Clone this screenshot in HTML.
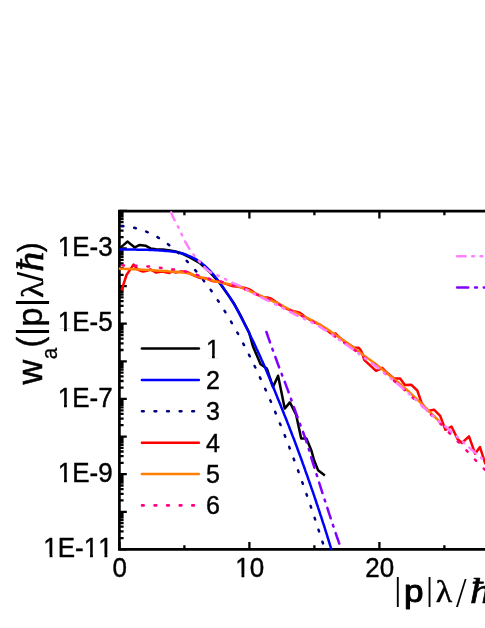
<!DOCTYPE html>
<html><head><meta charset="utf-8"><title>chart</title>
<style>
html,body{margin:0;padding:0;background:#fff;}
body{width:485px;height:628px;overflow:hidden;position:relative;}
.s{font-family:"Liberation Sans",sans-serif;fill:#000;}
.r{font-family:"Liberation Serif",serif;}
svg{will-change:transform;}
.k{font-kerning:none;stroke:#000;stroke-width:.4px;stroke-linejoin:round;}
</style></head><body>
<svg width="485" height="628" viewBox="0 0 485 628" style="position:absolute;left:0;top:0">
<rect width="485" height="628" fill="#fff"/>
<defs><clipPath id="c"><rect x="118.6" y="211.1" width="400" height="339.5"/></clipPath></defs>
<path d="M119.4,211.1 V549.4 H490 M119.4,211.1 H490" fill="none" stroke="#000" stroke-width="2.7" stroke-linecap="square"/>
<path d="M119.4,549.4 v-7.3 M119.4,211.1 v7.3 M184.4,549.4 v-4.2 M184.4,211.1 v4.2 M249.4,549.4 v-7.3 M249.4,211.1 v7.3 M314.4,549.4 v-4.2 M314.4,211.1 v4.2 M379.4,549.4 v-7.3 M379.4,211.1 v7.3 M444.4,549.4 v-4.2 M444.4,211.1 v4.2 M119.4,549.4 h7.4 M119.4,538.1 h4.2 M119.4,531.4 h4.2 M119.4,526.7 h4.2 M119.4,523.1 h4.2 M119.4,520.1 h4.2 M119.4,517.6 h4.2 M119.4,515.4 h4.2 M119.4,513.5 h4.2 M119.4,511.8 h7.4 M119.4,500.4 h4.2 M119.4,493.8 h4.2 M119.4,489.1 h4.2 M119.4,485.5 h4.2 M119.4,482.5 h4.2 M119.4,480.0 h4.2 M119.4,477.8 h4.2 M119.4,475.9 h4.2 M119.4,474.2 h7.4 M119.4,462.8 h4.2 M119.4,456.2 h4.2 M119.4,451.5 h4.2 M119.4,447.9 h4.2 M119.4,444.9 h4.2 M119.4,442.4 h4.2 M119.4,440.2 h4.2 M119.4,438.3 h4.2 M119.4,436.6 h7.4 M119.4,425.2 h4.2 M119.4,418.6 h4.2 M119.4,413.9 h4.2 M119.4,410.3 h4.2 M119.4,407.3 h4.2 M119.4,404.8 h4.2 M119.4,402.6 h4.2 M119.4,400.7 h4.2 M119.4,398.9 h7.4 M119.4,387.6 h4.2 M119.4,381.0 h4.2 M119.4,376.3 h4.2 M119.4,372.7 h4.2 M119.4,369.7 h4.2 M119.4,367.2 h4.2 M119.4,365.0 h4.2 M119.4,363.1 h4.2 M119.4,361.3 h7.4 M119.4,350.0 h4.2 M119.4,343.4 h4.2 M119.4,338.7 h4.2 M119.4,335.0 h4.2 M119.4,332.1 h4.2 M119.4,329.5 h4.2 M119.4,327.4 h4.2 M119.4,325.4 h4.2 M119.4,323.7 h7.4 M119.4,312.4 h4.2 M119.4,305.8 h4.2 M119.4,301.1 h4.2 M119.4,297.4 h4.2 M119.4,294.5 h4.2 M119.4,291.9 h4.2 M119.4,289.8 h4.2 M119.4,287.8 h4.2 M119.4,286.1 h7.4 M119.4,274.8 h4.2 M119.4,268.2 h4.2 M119.4,263.5 h4.2 M119.4,259.8 h4.2 M119.4,256.8 h4.2 M119.4,254.3 h4.2 M119.4,252.1 h4.2 M119.4,250.2 h4.2 M119.4,248.5 h7.4 M119.4,237.2 h4.2 M119.4,230.6 h4.2 M119.4,225.9 h4.2 M119.4,222.2 h4.2 M119.4,219.2 h4.2 M119.4,216.7 h4.2 M119.4,214.5 h4.2 M119.4,212.6 h4.2 M119.4,210.9 h7.4" fill="none" stroke="#000" stroke-width="2.3"/>
<g clip-path="url(#c)"><path d="M119.4,249.0 L120.8,247.4 L127.4,241.6 L134.8,247.4 L139.7,244.9 L145.5,245.7 L150.5,248.4 L156.0,249.2 L162.8,249.6 L170.0,250.6 L176.0,251.6 L182.0,253.6 L190.8,257.8 L199.5,262.9 L210.0,272.3 L219.3,282.6 L226.0,292.0 L233.7,302.9 L240.0,314.3 L246.0,326.2 L249.0,332.2 L253.0,346.6 L260.6,364.3 L266.8,368.5 L273.0,387.0 L278.1,375.7 L281.0,390.0 L284.7,408.6 L289.9,402.4 L296.1,414.7 L301.2,438.5 L306.4,438.5 L311.5,450.8 L314.0,460.0 L318.1,470.3 L324.9,475.5" fill="none" stroke="#000" stroke-width="2.5" stroke-linejoin="round" />
<path d="M119.4,249.5 L121.4,249.5 L123.4,249.5 L125.5,249.5 L127.5,249.6 L129.5,249.6 L131.5,249.6 L133.5,249.6 L135.6,249.6 L137.6,249.7 L139.6,249.7 L141.6,249.7 L143.6,249.8 L145.7,249.8 L147.7,249.8 L149.7,249.9 L151.7,250.0 L153.7,250.1 L155.7,250.2 L157.8,250.3 L159.8,250.5 L161.8,250.6 L163.8,250.8 L165.8,250.9 L167.8,251.1 L169.9,251.3 L171.9,251.5 L173.9,251.7 L175.9,252.0 L177.9,252.3 L179.8,252.7 L181.8,253.2 L183.7,253.8 L185.6,254.5 L187.5,255.3 L189.4,256.1 L191.2,256.9 L193.0,257.8 L194.8,258.7 L196.6,259.7 L198.3,260.8 L200.0,261.9 L201.6,263.1 L203.1,264.4 L204.7,265.7 L206.2,267.1 L207.6,268.5 L209.1,269.9 L210.5,271.4 L211.8,272.9 L213.2,274.4 L214.4,275.9 L215.7,277.5 L217.0,279.1 L218.2,280.7 L219.4,282.3 L220.6,284.0 L221.8,285.6 L223.0,287.2 L224.1,288.9 L225.3,290.6 L226.4,292.2 L227.6,293.9 L228.7,295.6 L229.8,297.3 L230.8,299.0 L231.9,300.7 L233.0,302.5 L234.0,304.2 L235.0,305.9 L236.0,307.7 L237.0,309.4 L237.9,311.2 L238.9,313.0 L239.8,314.8 L240.8,316.6 L241.7,318.4 L242.6,320.2 L243.5,322.0 L244.4,323.8 L245.3,325.6 L246.3,327.4 L247.2,329.2 L248.1,331.0 L249.0,332.8 L249.9,334.6 L250.7,336.4 L251.6,338.3 L252.5,340.1 L253.4,341.9 L254.3,343.7 L255.1,345.5 L256.0,347.4 L256.8,349.2 L257.7,351.0 L258.5,352.9 L259.4,354.7 L260.2,356.5 L261.0,358.4 L261.8,360.2 L262.7,362.1 L263.5,363.9 L264.3,365.8 L265.1,367.6 L265.9,369.5 L266.7,371.4 L267.4,373.2 L268.2,375.1 L269.0,376.9 L269.8,378.8 L270.6,380.7 L271.3,382.5 L272.1,384.4 L272.9,386.3 L273.6,388.1 L274.4,390.0 L275.2,391.9 L275.9,393.7 L276.7,395.6 L277.4,397.5 L278.2,399.4 L279.0,401.2 L279.7,403.1 L280.5,405.0 L281.2,406.9 L282.0,408.7 L282.7,410.6 L283.5,412.5 L284.2,414.4 L285.0,416.2 L285.7,418.1 L286.5,420.0 L287.2,421.9 L287.9,423.8 L288.7,425.6 L289.4,427.5 L290.1,429.4 L290.9,431.3 L291.6,433.2 L292.3,435.1 L293.0,436.9 L293.8,438.8 L294.5,440.7 L295.2,442.6 L295.9,444.5 L296.6,446.4 L297.3,448.3 L298.0,450.2 L298.7,452.1 L299.4,454.0 L300.1,455.9 L300.8,457.8 L301.5,459.7 L302.2,461.6 L302.8,463.5 L303.5,465.4 L304.2,467.3 L304.9,469.2 L305.5,471.1 L306.2,473.0 L306.9,474.9 L307.6,476.8 L308.2,478.7 L308.9,480.6 L309.6,482.5 L310.2,484.4 L310.9,486.3 L311.5,488.2 L312.2,490.1 L312.9,492.0 L313.5,493.9 L314.2,495.9 L314.8,497.8 L315.5,499.7 L316.1,501.6 L316.7,503.5 L317.4,505.4 L318.0,507.3 L318.7,509.3 L319.3,511.2 L319.9,513.1 L320.5,515.0 L321.2,516.9 L321.8,518.9 L322.4,520.8 L323.0,522.7 L323.7,524.6 L324.3,526.5 L324.9,528.5 L325.5,530.4 L326.1,532.3 L326.7,534.2 L327.3,536.2 L327.9,538.1 L328.5,540.0 L329.1,542.0 L329.7,543.9 L330.3,545.8 L330.9,547.8 L331.5,549.7" fill="none" stroke="#0000ff" stroke-width="2.5" stroke-linejoin="round" />
<path d="M119.4,226.1 L122.9,226.2 L126.5,226.5 L130.0,227.0 L133.5,227.6 L137.0,228.5 L140.6,229.6 L144.1,230.8 L147.6,232.2 L151.1,233.8 L154.7,235.6 L158.2,237.6 L161.7,239.8 L165.2,242.2 L168.8,244.8 L172.3,247.5 L175.8,250.5 L179.3,253.6 L182.9,257.0 L186.4,260.5 L189.9,264.2 L193.4,268.1 L197.0,272.2 L200.5,276.5 L204.0,280.9 L207.5,285.6 L211.1,290.4 L214.6,295.5 L218.1,300.7 L221.6,306.1 L225.2,311.8 L228.7,317.6 L232.2,323.6 L235.7,329.7 L239.3,336.1 L242.8,342.7 L246.3,349.4 L249.8,356.4 L253.4,363.5 L256.9,370.8 L260.4,378.4 L263.9,386.1 L267.5,394.0 L271.0,402.0 L274.5,410.3 L278.0,418.8 L281.6,427.5 L285.1,436.3 L288.6,445.3 L292.1,454.6 L295.7,464.0 L299.2,473.6 L302.7,483.4 L306.2,493.4 L309.8,503.6 L313.3,513.9 L316.8,524.5 L320.3,535.3 L323.9,546.2 L327.4,557.3" fill="none" stroke="#000080" stroke-width="2.5" stroke-linejoin="round" stroke-dasharray="1.7 10.87" stroke-linecap="round" stroke-dashoffset="10.2"/>
<path d="M121.5,290.3 L126.5,275.0 L133.5,264.6 L138.0,269.8 L143.0,271.5 L147.0,270.8 L150.5,269.3 L156.2,272.6 L162.0,271.6 L169.4,273.0 L172.0,271.5 L174.0,272.1 L176.0,272.4 L178.0,272.1 L180.0,271.6 L182.0,271.6 L184.0,271.7 L186.0,272.0 L188.0,272.4 L190.0,273.4 L192.0,274.6 L194.0,275.5 L196.0,276.4 L198.0,277.2 L200.0,277.9 L202.0,278.1 L204.0,278.1 L206.0,278.3 L208.0,279.1 L210.0,280.1 L212.0,280.9 L214.0,281.2 L216.0,281.4 L218.0,281.5 L220.0,281.7 L222.0,282.3 L224.0,283.2 L226.0,283.9 L228.0,284.6 L230.0,285.3 L232.0,285.9 L234.0,286.3 L236.0,286.5 L238.0,286.7 L240.0,287.0 L242.0,287.4 L244.0,287.8 L246.0,288.3 L248.0,288.9 L250.0,289.7 L252.0,290.9 L254.0,292.5 L256.0,293.8 L258.0,294.9 L260.0,295.9 L262.0,296.9 L264.0,297.4 L266.0,297.5 L268.0,297.6 L270.0,298.1 L272.0,299.2 L274.0,300.6 L276.0,302.0 L278.0,303.3 L280.0,304.7 L282.0,306.1 L284.0,307.4 L286.0,308.4 L288.0,309.3 L290.0,310.0 L292.0,310.7 L294.0,311.3 L296.0,311.7 L298.0,312.2 L300.0,312.9 L302.0,314.3 L304.0,316.0 L306.0,317.5 L308.0,318.7 L310.0,319.8 L312.0,320.9 L314.0,321.8 L316.0,322.8 L318.0,323.8 L320.0,324.7 L322.0,326.2 L327.0,330.3 L331.0,333.4 L333.5,334.2 L335.4,333.4 L338.0,336.2 L342.0,339.5 L350.0,345.0 L353.7,347.6 L358.7,347.8 L360.5,349.9 L362.4,353.6 L364.2,359.8 L376.0,370.9 L379.1,369.7 L382.2,367.8 L387.1,372.8 L393.9,378.4 L400.1,378.4 L404.9,384.9 L411.1,384.7 L417.3,390.5 L421.6,402.9 L427.8,410.9 L434.0,409.7 L440.2,415.9 L445.4,429.8 L451.5,426.5 L457.5,438.9 L461.9,443.0 L469.0,436.4 L475.1,453.7 L480.0,447.1 L485.0,462.8 L490.0,470.0" fill="none" stroke="#ff0000" stroke-width="2.5" stroke-linejoin="round" />
<path d="M118.6,268.6 L120.4,268.7 L122.3,268.7 L124.1,268.8 L126.0,268.9 L127.8,269.0 L129.7,269.0 L131.5,269.1 L133.4,269.2 L135.2,269.3 L137.1,269.4 L138.9,269.5 L140.8,269.6 L142.6,269.7 L144.5,269.8 L146.3,269.9 L148.2,270.0 L150.0,270.1 L151.9,270.2 L153.7,270.3 L155.5,270.5 L157.4,270.6 L159.2,270.7 L161.1,270.8 L163.0,270.9 L164.8,271.0 L166.7,271.1 L168.5,271.3 L170.4,271.4 L172.2,271.5 L174.1,271.7 L175.9,271.8 L177.8,272.0 L179.6,272.2 L181.4,272.4 L183.2,272.6 L185.1,272.8 L186.9,273.1 L188.6,273.5 L190.4,274.0 L192.2,274.5 L194.0,275.1 L195.7,275.7 L197.5,276.3 L199.3,276.8 L201.1,277.4 L202.8,277.9 L204.6,278.4 L206.4,278.9 L208.2,279.4 L210.0,279.8 L211.8,280.3 L213.6,280.8 L215.3,281.3 L217.1,281.7 L218.9,282.1 L220.8,282.5 L222.6,282.9 L224.4,283.2 L226.2,283.6 L228.0,283.9 L229.9,284.3 L231.7,284.6 L233.5,285.1 L235.2,285.5 L237.0,286.0 L238.8,286.6 L240.5,287.2 L242.2,287.8 L243.9,288.5 L245.6,289.2 L247.3,290.0 L249.0,290.7 L250.7,291.5 L252.4,292.3 L254.1,293.0 L255.8,293.7 L257.5,294.5 L259.2,295.2 L260.9,295.9 L262.6,296.7 L264.3,297.4 L266.0,298.1 L267.7,298.9 L269.4,299.7 L271.1,300.4 L272.8,301.2 L274.5,302.0 L276.1,302.7 L277.8,303.5 L279.5,304.3 L281.1,305.2 L282.8,306.0 L284.4,306.8 L286.1,307.7 L287.7,308.5 L289.4,309.4 L291.0,310.2 L292.7,311.1 L294.3,311.9 L296.0,312.7 L297.6,313.6 L299.3,314.4 L301.0,315.2 L302.6,315.9 L304.3,316.7 L306.0,317.5 L307.7,318.3 L309.4,319.1 L311.0,319.9 L312.7,320.7 L314.3,321.5 L315.9,322.4 L317.5,323.3 L319.2,324.2 L320.8,325.2 L322.3,326.1 L323.9,327.1 L325.5,328.1 L327.0,329.1 L328.6,330.1 L330.1,331.1 L331.6,332.2 L333.2,333.2 L334.7,334.3 L336.2,335.4 L337.7,336.5 L339.2,337.5 L340.7,338.6 L342.2,339.7 L343.7,340.7 L345.3,341.8 L346.8,342.8 L348.3,343.9 L349.8,344.9 L351.3,346.0 L352.8,347.1 L354.3,348.2 L355.8,349.3 L357.2,350.4 L358.7,351.5 L360.2,352.7 L361.7,353.8 L363.1,354.9 L364.6,356.0 L366.1,357.1 L367.6,358.2 L369.1,359.2 L370.7,360.3 L372.2,361.4 L373.6,362.5 L375.1,363.6 L376.6,364.7 L378.0,365.9 L379.5,367.1 L380.9,368.2 L382.3,369.4 L383.7,370.6 L385.1,371.8 L386.6,373.0 L388.0,374.1 L389.4,375.3 L390.9,376.5 L392.3,377.6 L393.8,378.8 L395.2,379.9 L396.6,381.1 L398.1,382.3 L399.5,383.5 L400.9,384.6 L402.3,385.9 L403.7,387.1 L405.1,388.3 L406.5,389.5 L407.8,390.8 L409.2,392.0 L410.6,393.3 L411.9,394.5 L413.3,395.8 L414.6,397.1 L416.0,398.3 L417.3,399.6 L418.6,400.9 L420.0,402.2 L421.3,403.5 L422.6,404.8 L423.9,406.1 L425.2,407.4 L426.6,408.7 L427.9,410.0 L429.2,411.3 L430.5,412.6 L431.8,413.9 L433.1,415.2 L434.5,416.5 L435.8,417.8 L437.1,419.1 L438.4,420.4 L439.7,421.7 L441.0,423.0" fill="none" stroke="#ff8000" stroke-width="2.5" stroke-linejoin="round" />
<path d="M118.6,265.2 L119.7,265.2 L120.8,265.3 L121.9,265.3 L123.0,265.4 L124.1,265.4 L125.2,265.4 L126.3,265.5 L127.4,265.5 L128.5,265.5 L129.6,265.5 L130.7,265.6 L131.8,265.6 L132.9,265.6 L134.0,265.7 L135.1,265.7 L136.2,265.8 L137.3,265.8 L138.4,265.9 L139.5,265.9 L140.6,266.0 L141.7,266.1 L142.8,266.1 L143.9,266.2 L145.0,266.3 L146.1,266.4 L147.2,266.4 L148.3,266.5 L149.4,266.6 L150.5,266.7 L151.6,266.8 L152.7,266.9 L153.8,267.0 L154.9,267.2 L156.0,267.3 L157.1,267.4 L158.2,267.5 L159.3,267.7 L160.4,267.8 L161.5,267.9 L162.6,268.0 L163.7,268.1 L164.8,268.3 L165.9,268.4 L166.9,268.5 L168.0,268.7 L169.1,268.8 L170.2,269.0 L171.3,269.1 L172.4,269.3 L173.5,269.4 L174.6,269.6 L175.7,269.8 L176.8,270.0 L177.8,270.2 L178.9,270.3 L180.0,270.5 L181.1,270.7 L182.2,270.9 L183.3,271.1 L184.4,271.3 L185.4,271.5 L186.5,271.7 L187.6,271.9 L188.7,272.2 L189.7,272.5 L190.8,272.8 L191.8,273.1 L192.9,273.5 L193.9,273.8 L195.0,274.2 L196.0,274.6 L197.1,274.9 L198.1,275.3 L199.1,275.6 L200.2,276.0 L201.2,276.3 L202.3,276.7 L203.3,277.0 L204.4,277.3 L205.4,277.6 L206.5,277.9 L207.6,278.3 L208.6,278.6 L209.7,278.9 L210.7,279.2 L211.8,279.4 L212.9,279.7 L213.9,280.0 L215.0,280.3 L216.1,280.5 L217.1,280.8 L218.2,281.1 L219.3,281.3 L220.4,281.5 L221.4,281.7 L222.5,282.0 L223.6,282.2 L224.7,282.5 L225.7,282.8 L226.8,283.1 L227.8,283.4 L228.9,283.8 L229.9,284.1 L231.0,284.4 L232.0,284.8 L233.1,285.1 L234.1,285.5 L235.2,285.8 L236.2,286.1 L237.3,286.4 L238.4,286.7 L239.4,287.1 L240.4,287.5 L241.5,287.8 L242.5,288.2 L243.5,288.7 L244.5,289.1 L245.5,289.5 L246.6,289.9 L247.6,290.4 L248.6,290.8 L249.6,291.3 L250.6,291.7 L251.6,292.2 L252.6,292.6 L253.6,293.1 L254.6,293.5 L255.6,294.0 L256.6,294.4 L257.7,294.8 L258.7,295.3 L259.7,295.7 L260.7,296.1 L261.7,296.6 L262.7,297.0 L263.7,297.4 L264.7,297.9 L265.8,298.3 L266.8,298.8 L267.8,299.2 L268.8,299.7 L269.8,300.1 L270.8,300.6 L271.8,301.0 L272.8,301.5 L273.8,301.9 L274.8,302.4 L275.8,302.9 L276.8,303.3 L277.8,303.8 L278.8,304.3 L279.8,304.8 L280.7,305.3 L281.7,305.8 L282.7,306.3 L283.7,306.8 L284.7,307.3 L285.7,307.8 L286.6,308.3 L287.6,308.8 L288.6,309.3 L289.6,309.8 L290.6,310.3 L291.5,310.8 L292.5,311.3 L293.5,311.8 L294.5,312.3 L295.5,312.8 L296.5,313.3 L297.4,313.8 L298.4,314.3 L299.4,314.7 L300.4,315.2 L301.4,315.7 L302.4,316.2 L303.4,316.6 L304.4,317.1 L305.4,317.6 L306.3,318.1 L307.3,318.7 L308.3,319.2 L309.3,319.7 L310.2,320.2 L311.2,320.8 L312.1,321.3 L313.1,321.9 L314.0,322.5 L315.0,323.0 L315.9,323.6 L316.8,324.2 L317.8,324.8 L318.7,325.4 L319.6,326.0 L320.5,326.6 L321.4,327.2 L322.4,327.9 L323.3,328.5 L324.2,329.1 L325.1,329.7 L326.0,330.3 L326.9,330.9 L327.8,331.6 L328.7,332.2 L329.7,332.8 L330.6,333.4 L331.5,334.0 L332.4,334.7 L333.3,335.3 L334.2,335.9 L335.1,336.6 L336.0,337.2 L336.9,337.8 L337.8,338.5 L338.7,339.1 L339.6,339.7 L340.5,340.3 L341.4,340.9 L342.4,341.6 L343.3,342.2 L344.2,342.8 L345.1,343.4 L346.0,344.0 L346.9,344.6 L347.8,345.2 L348.8,345.9 L349.7,346.5 L350.6,347.1 L351.5,347.8 L352.4,348.4 L353.3,349.0 L354.1,349.7 L355.0,350.4 L355.9,351.0 L356.8,351.7 L357.7,352.4 L358.5,353.0 L359.4,353.7 L360.3,354.4 L361.2,355.0 L362.1,355.7 L362.9,356.4 L363.8,357.0 L364.7,357.7 L365.6,358.3 L366.5,359.0 L367.4,359.6 L368.3,360.3 L369.2,360.9 L370.1,361.5 L371.0,362.2 L371.8,362.8 L372.7,363.5 L373.6,364.1 L374.5,364.8 L375.4,365.5 L376.2,366.2 L377.1,366.9 L377.9,367.5 L378.8,368.2 L379.6,369.0 L380.5,369.7 L381.3,370.4 L382.2,371.1 L383.0,371.8 L383.9,372.5 L384.7,373.2 L385.5,373.9 L386.4,374.6 L387.2,375.3 L388.1,376.0 L388.9,376.7 L389.8,377.4 L390.6,378.1 L391.5,378.8 L392.3,379.5 L393.2,380.2 L394.1,380.9 L394.9,381.6 L395.8,382.3 L396.6,383.0 L397.4,383.7 L398.3,384.5 L399.1,385.2 L400.0,385.9 L400.8,386.6 L401.6,387.3 L402.5,388.1 L403.3,388.8 L404.1,389.5 L404.9,390.3 L405.7,391.0 L406.5,391.8 L407.3,392.5 L408.1,393.3 L408.9,394.1 L409.7,394.8 L410.5,395.6 L411.3,396.3 L412.1,397.1 L412.9,397.9 L413.7,398.6 L414.5,399.3 L415.4,400.1 L416.2,400.8 L417.0,401.5 L417.9,402.2 L418.7,403.0 L419.5,403.7 L420.3,404.4 L421.1,405.2 L422.0,405.9 L422.8,406.7 L423.5,407.4 L424.3,408.2 L425.1,409.0 L425.9,409.7 L426.7,410.5 L427.5,411.3 L428.3,412.0 L429.1,412.8 L429.9,413.6 L430.7,414.3 L431.5,415.1 L432.3,415.9 L433.1,416.6 L433.9,417.4 L434.7,418.2 L435.5,418.9 L436.3,419.7 L437.1,420.4 L437.8,421.2 L438.6,422.0 L439.5,422.7 L440.2,423.5 L441.0,424.2 L441.8,425.0 L442.6,425.8 L443.3,426.6 L444.1,427.4 L444.8,428.2 L445.6,429.0 L446.4,429.8 L447.1,430.6 L447.9,431.4 L448.6,432.2 L449.4,433.0 L450.2,433.8 L451.0,434.6 L451.7,435.4 L452.5,436.1 L453.3,436.9 L454.1,437.7 L454.9,438.5 L455.7,439.2 L456.4,440.0 L457.2,440.8 L458.0,441.6 L458.8,442.4 L459.5,443.2 L460.3,443.9 L461.1,444.7 L461.8,445.5 L462.6,446.3 L463.3,447.1 L464.1,447.9 L464.9,448.7 L465.6,449.5 L466.4,450.3 L467.1,451.1 L467.9,451.9 L468.6,452.8 L469.4,453.6 L470.1,454.4 L470.9,455.2 L471.6,456.0 L472.3,456.8 L473.1,457.6 L473.8,458.4 L474.6,459.2 L475.4,460.0 L476.1,460.8 L476.9,461.6 L477.7,462.4 L478.4,463.2 L479.2,464.0 L480.0,464.8 L480.8,465.5 L481.5,466.3 L482.3,467.1 L483.1,467.9 L483.9,468.7 L484.6,469.5 L485.4,470.2 L486.2,471.0 L486.9,471.8 L487.7,472.6 L488.5,473.4 L489.2,474.2 L490.0,475.0" fill="none" stroke="#ff0080" stroke-width="2.5" stroke-linejoin="round" stroke-dasharray="1.7 10.87" stroke-linecap="round" stroke-dashoffset="8.9"/>
<path d="M171.1,212.4 L171.5,213.4 L171.9,214.3 L172.3,215.3 L172.7,216.2 L173.1,217.2 L173.6,218.1 L174.0,219.1 L174.5,220.0 L174.9,220.9 L175.4,221.9 L175.8,222.8 L176.3,223.7 L176.8,224.6 L177.4,225.5 L177.9,226.4 L178.4,227.3 L178.9,228.2 L179.4,229.2 L179.8,230.1 L180.2,231.1 L180.6,232.0 L181.0,233.0 L181.4,233.9 L181.9,234.9 L182.3,235.8 L182.8,236.7 L183.2,237.7 L183.7,238.6 L184.2,239.5 L184.6,240.5 L185.1,241.4 L185.6,242.3 L186.1,243.2 L186.6,244.1 L187.1,245.0 L187.6,245.9 L188.2,246.8 L188.7,247.7 L189.2,248.6 L189.8,249.5 L190.4,250.3 L191.0,251.2 L191.6,252.0 L192.2,252.9 L192.8,253.7 L193.5,254.5 L194.1,255.3 L194.8,256.1 L195.4,256.9 L196.1,257.7 L196.8,258.5 L197.5,259.3 L198.1,260.1 L198.8,260.9 L199.5,261.7 L200.1,262.5 L200.8,263.3 L201.4,264.1 L202.1,264.9 L202.8,265.7 L203.5,266.4 L204.3,267.1 L205.0,267.9 L205.8,268.6 L206.6,269.3 L207.4,270.0 L208.2,270.6 L209.0,271.3 L209.9,271.9 L210.7,272.4 L211.6,272.9 L212.5,273.4 L213.5,273.8 L214.4,274.2 L215.4,274.6 L216.4,274.9 L217.4,275.3 L218.3,275.8 L219.3,276.2 L220.2,276.6 L221.1,277.1 L222.1,277.6 L223.0,278.0 L223.9,278.5 L224.9,279.0 L225.8,279.4 L226.7,279.9 L227.6,280.4 L228.5,280.9 L229.5,281.4 L230.4,281.8 L231.3,282.3 L232.3,282.7 L233.2,283.1 L234.2,283.6 L235.1,283.9 L236.1,284.3 L237.1,284.7 L238.0,285.1 L239.0,285.5 L239.9,286.0 L240.9,286.4 L241.8,286.9 L242.6,287.5 L243.5,288.1 L244.4,288.6 L245.3,289.1 L246.2,289.6 L247.1,290.1 L248.0,290.6 L248.9,291.1 L249.8,291.6 L250.8,292.1 L251.7,292.6 L252.6,293.1 L253.5,293.6 L254.4,294.1 L255.4,294.6 L256.3,295.0 L257.2,295.5 L258.2,295.9 L259.1,296.4 L260.0,296.8 L261.0,297.3 L261.9,297.7 L262.8,298.2 L263.8,298.6 L264.7,299.1 L265.7,299.5 L266.6,299.9 L267.5,300.4 L268.5,300.8 L269.4,301.3 L270.3,301.7 L271.3,302.2 L272.2,302.6 L273.1,303.1 L274.1,303.6 L275.0,304.0 L275.9,304.5 L276.9,304.9 L277.8,305.4 L278.7,305.9 L279.7,306.4 L280.6,306.8 L281.5,307.3 L282.4,307.8 L283.3,308.3 L284.3,308.8 L285.2,309.3 L286.1,309.7 L287.0,310.2 L287.9,310.7 L288.8,311.2 L289.8,311.7 L290.7,312.2 L291.6,312.7 L292.5,313.2 L293.4,313.6 L294.4,314.1 L295.3,314.6 L296.2,315.1 L297.1,315.5 L298.1,316.0 L299.0,316.4 L299.9,316.9 L300.9,317.3 L301.8,317.8 L302.8,318.2 L303.7,318.6 L304.7,319.1 L305.6,319.5 L306.5,319.9 L307.5,320.4 L308.4,320.8 L309.4,321.3 L310.3,321.7 L311.2,322.2 L312.2,322.6 L313.1,323.1 L314.0,323.6 L314.9,324.1 L315.9,324.6 L316.8,325.1 L317.7,325.6 L318.6,326.1 L319.5,326.6 L320.4,327.1 L321.3,327.7 L322.1,328.2 L323.0,328.7 L323.9,329.3 L324.8,329.8 L325.7,330.4 L326.6,330.9 L327.4,331.5 L328.3,332.1 L329.2,332.7 L330.0,333.2 L330.9,333.8 L331.7,334.4 L332.6,335.0 L333.4,335.6 L334.3,336.2 L335.1,336.8 L336.0,337.4 L336.8,338.0 L337.7,338.6 L338.5,339.2 L339.4,339.8 L340.2,340.4 L341.1,341.0 L341.9,341.6 L342.8,342.2 L343.6,342.8 L344.5,343.4 L345.3,344.0 L346.2,344.6 L347.0,345.2 L347.9,345.8 L348.7,346.4 L349.6,347.0 L350.4,347.6 L351.3,348.2 L352.1,348.8 L353.0,349.4 L353.8,350.0 L354.6,350.6 L355.5,351.2 L356.3,351.9 L357.1,352.5 L358.0,353.1 L358.8,353.7 L359.6,354.4 L360.4,355.0 L361.3,355.6 L362.1,356.2 L362.9,356.9 L363.8,357.5 L364.6,358.1 L365.5,358.7 L366.3,359.3 L367.1,359.9 L368.0,360.5 L368.8,361.1 L369.7,361.7 L370.5,362.3 L371.4,362.9 L372.2,363.5 L373.1,364.1 L373.9,364.8 L374.7,365.4 L375.6,366.0 L376.4,366.7 L377.2,367.3 L378.0,368.0 L378.8,368.6 L379.6,369.3 L380.4,369.9 L381.2,370.6 L382.0,371.2 L382.8,371.9 L383.6,372.6 L384.4,373.2 L385.2,373.9 L386.0,374.6 L386.8,375.2 L387.6,375.9 L388.4,376.5 L389.2,377.2 L390.1,377.8 L390.9,378.5 L391.7,379.1 L392.5,379.8 L393.3,380.4 L394.1,381.1 L394.9,381.7 L395.7,382.4 L396.5,383.0 L397.3,383.7 L398.2,384.3 L399.0,385.0 L399.8,385.7 L400.5,386.3 L401.3,387.0 L402.1,387.7 L402.9,388.4 L403.7,389.0 L404.5,389.7 L405.3,390.4 L406.0,391.1 L406.8,391.8 L407.6,392.5 L408.4,393.2 L409.2,393.9 L409.9,394.6 L410.7,395.2 L411.5,395.9 L412.2,396.6 L413.0,397.3 L413.8,398.0 L414.5,398.7 L415.3,399.4 L416.1,400.1 L416.8,400.8 L417.6,401.6 L418.4,402.3 L419.1,403.0 L419.9,403.7 L420.6,404.4 L421.4,405.1 L422.1,405.8 L422.9,406.5 L423.7,407.2 L424.4,408.0 L425.2,408.7 L425.9,409.4 L426.7,410.1 L427.4,410.8 L428.2,411.5 L428.9,412.2 L429.7,413.0 L430.5,413.7 L431.2,414.4 L432.0,415.1 L432.7,415.8 L433.5,416.5 L434.2,417.2 L435.0,417.9 L435.8,418.6 L436.5,419.4 L437.3,420.1 L438.0,420.8 L438.8,421.5 L439.6,422.2 L440.4,422.9 L441.2,423.5 L442.1,424.1 L442.9,424.7 L443.8,425.3 L444.6,425.9 L445.4,426.5 L446.2,427.2 L447.0,427.9 L447.8,428.5 L448.6,429.2 L449.4,429.9 L450.1,430.6 L450.9,431.3 L451.7,431.9 L452.5,432.6 L453.3,433.3 L454.0,434.0 L454.8,434.7 L455.6,435.4 L456.4,436.1 L457.2,436.8 L457.9,437.5 L458.7,438.2 L459.5,438.9 L460.2,439.6 L461.0,440.3 L461.8,440.9 L462.5,441.6 L463.3,442.3 L464.1,443.0 L464.9,443.7 L465.7,444.4 L466.4,445.1 L467.2,445.8 L468.0,446.5 L468.8,447.1 L469.6,447.8 L470.3,448.5 L471.1,449.2 L471.9,449.9 L472.7,450.6 L473.5,451.2 L474.3,451.9 L475.1,452.6 L475.8,453.3 L476.6,454.0 L477.4,454.6 L478.2,455.3 L479.0,456.0 L479.8,456.7 L480.6,457.3 L481.4,458.0 L482.1,458.7 L482.9,459.4 L483.7,460.1 L484.5,460.7 L485.3,461.4 L486.1,462.1 L486.9,462.8 L487.6,463.5 L488.4,464.1 L489.2,464.8 L490.0,465.5" fill="none" stroke="#ff80ff" stroke-width="2.5" stroke-linejoin="round" stroke-dasharray="8.6 6.9 1.6 6.8 1.6 6.8" stroke-linecap="round"/>
<path d="M266.4,332.0 L267.2,334.2 L267.9,336.4 L268.7,338.6 L269.5,340.8 L270.2,343.0 L271.0,345.2 L271.8,347.4 L272.6,349.6 L273.4,351.7 L274.2,353.9 L275.0,356.1 L275.8,358.3 L276.6,360.5 L277.4,362.7 L278.2,364.8 L279.0,367.0 L279.8,369.2 L280.7,371.4 L281.5,373.5 L282.3,375.7 L283.2,377.9 L284.0,380.0 L284.9,382.2 L285.7,384.4 L286.5,386.6 L287.3,388.7 L288.1,390.9 L288.9,393.1 L289.7,395.3 L290.5,397.5 L291.3,399.7 L292.1,401.9 L292.8,404.1 L293.6,406.3 L294.4,408.5 L295.2,410.7 L295.9,412.8 L296.7,415.0 L297.5,417.2 L298.3,419.4 L299.1,421.6 L299.9,423.8 L300.7,426.0 L301.6,428.1 L302.4,430.3 L303.2,432.5 L304.0,434.7 L304.8,436.9 L305.6,439.0 L306.3,441.2 L307.0,443.5 L307.7,445.7 L308.4,447.9 L309.1,450.1 L309.7,452.4 L310.4,454.6 L311.0,456.8 L311.7,459.1 L312.4,461.3 L313.1,463.5 L313.8,465.7 L314.5,467.9 L315.2,470.2 L315.9,472.4 L316.6,474.6 L317.3,476.8 L318.0,479.0 L318.7,481.2 L319.4,483.5 L320.1,485.7 L320.8,487.9 L321.5,490.1 L322.2,492.3 L322.9,494.5 L323.7,496.8 L324.4,499.0 L325.1,501.2 L325.8,503.4 L326.5,505.6 L327.3,507.8 L328.0,510.0 L328.7,512.2 L329.4,514.4 L330.2,516.7 L330.9,518.9 L331.6,521.1 L332.4,523.3 L333.1,525.5 L333.9,527.7 L334.6,529.9 L335.3,532.1 L336.1,534.3 L336.8,536.5 L337.6,538.7 L338.4,540.9 L339.1,543.1 L339.9,545.3 L340.6,547.5 L341.4,549.7" fill="none" stroke="#8000ff" stroke-width="2.5" stroke-linejoin="round" stroke-dasharray="11 6.9 1.8 6.9" stroke-linecap="round"/></g>
<path d="M141.9,348.6 H198.9" stroke="#000" stroke-width="2.5" fill="none" stroke-linecap="round"/>
<g transform="translate(206.00,357.60) scale(1,1.000)"><text font-size="25.0" class="s k">1</text><path d="M0.50,-2.77 H5.99 V1.2 H0.50 Z M8.79,-2.77 H14.25 V1.2 H8.79 Z" fill="#fff"/></g>
<path d="M141.9,380.0 H198.9" stroke="#0000ff" stroke-width="2.5" fill="none" stroke-linecap="round"/>
<g transform="translate(206.00,388.96) scale(1,1.000)"><text font-size="25.0" class="s k">2</text></g>
<path d="M142.0,411.3 H200" stroke="#000080" stroke-width="2.6" fill="none" stroke-dasharray="1.7 10.87" stroke-linecap="round"/>
<g transform="translate(206.00,420.32) scale(1,1.000)"><text font-size="25.0" class="s k">3</text></g>
<path d="M141.9,442.7 H198.9" stroke="#ff0000" stroke-width="2.5" fill="none" stroke-linecap="round"/>
<g transform="translate(206.00,451.68) scale(1,1.000)"><text font-size="25.0" class="s k">4</text></g>
<path d="M141.9,474.0 H198.9" stroke="#ff8000" stroke-width="2.5" fill="none" stroke-linecap="round"/>
<g transform="translate(206.00,483.04) scale(1,1.000)"><text font-size="25.0" class="s k">5</text></g>
<path d="M142.0,505.4 H200" stroke="#ff0080" stroke-width="2.6" fill="none" stroke-dasharray="1.7 10.87" stroke-linecap="round"/>
<g transform="translate(206.00,514.40) scale(1,1.000)"><text font-size="25.0" class="s k">6</text></g>
<path d="M457.2,256.3 H490" stroke="#ff80ff" stroke-width="2.6" fill="none" stroke-dasharray="8.4 6.7 1.6 6.7 1.6 6.7" stroke-linecap="round"/>
<path d="M457.2,287.5 H490" stroke="#8000ff" stroke-width="2.6" fill="none" stroke-dasharray="11 6.9 1.8 6.9" stroke-linecap="round"/>
<g transform="translate(57.78,256.20) scale(1,1.067)"><text font-size="26.0" class="s k">1E-3</text><path d="M0.52,-2.84 H6.24 V1.2 H0.52 Z M9.13,-2.84 H14.82 V1.2 H9.13 Z" fill="#fff"/></g>
<g transform="translate(57.78,331.42) scale(1,1.067)"><text font-size="26.0" class="s k">1E-5</text><path d="M0.52,-2.84 H6.24 V1.2 H0.52 Z M9.13,-2.84 H14.82 V1.2 H9.13 Z" fill="#fff"/></g>
<g transform="translate(57.78,406.64) scale(1,1.067)"><text font-size="26.0" class="s k">1E-7</text><path d="M0.52,-2.84 H6.24 V1.2 H0.52 Z M9.13,-2.84 H14.82 V1.2 H9.13 Z" fill="#fff"/></g>
<g transform="translate(57.78,481.86) scale(1,1.067)"><text font-size="26.0" class="s k">1E-9</text><path d="M0.52,-2.84 H6.24 V1.2 H0.52 Z M9.13,-2.84 H14.82 V1.2 H9.13 Z" fill="#fff"/></g>
<g transform="translate(43.32,557.08) scale(1,1.067)"><text font-size="26.0" class="s k">1E-11</text><path d="M0.52,-2.84 H6.24 V1.2 H0.52 Z M9.13,-2.84 H14.82 V1.2 H9.13 Z" fill="#fff"/><path d="M40.98,-2.84 H46.70 V1.2 H40.98 Z M49.59,-2.84 H55.28 V1.2 H49.59 Z" fill="#fff"/><path d="M55.44,-2.84 H61.16 V1.2 H55.44 Z M64.05,-2.84 H69.74 V1.2 H64.05 Z" fill="#fff"/></g>
<g transform="translate(112.47,577.00) scale(1,1.070)"><text font-size="26.0" class="s k">0</text></g>
<g transform="translate(235.24,577.00) scale(1,1.070)"><text font-size="26.0" class="s k">10</text><path d="M0.52,-2.84 H6.24 V1.2 H0.52 Z M9.13,-2.84 H14.82 V1.2 H9.13 Z" fill="#fff"/></g>
<g transform="translate(365.24,577.00) scale(1,1.070)"><text font-size="26.0" class="s k">20</text></g>
<g><text transform="translate(394.85,600.30) scale(0.750,1.000)" font-size="31.3" class="s">|</text><text transform="translate(404.03,601.50) scale(1.120,1.000)" font-size="31.4" class="s" stroke="#000" stroke-width="1.00" stroke-linejoin="round">p</text><text transform="translate(426.55,600.30) scale(0.750,1.000)" font-size="31.3" class="s">|</text><text transform="translate(435.71,602.20) scale(1.060,1.000)" font-size="32.0" class="s r" stroke="#000" stroke-width="0.50" stroke-linejoin="round">λ</text><text transform="translate(455.90,606.50) scale(1.000,1.100)" font-size="38.0" class="s r">/</text><text transform="translate(470.10,602.60) scale(1.150,1.000)" font-size="36.2" class="s r" font-style="italic" stroke="#000" stroke-width="0.70" stroke-linejoin="round">ħ</text></g>
<g transform="translate(42.3,385) rotate(-90)"><text transform="translate(0.45,0.00) scale(0.980,1.000)" font-size="35.0" class="s" stroke="#000" stroke-width="0.55" stroke-linejoin="round">w</text><text transform="translate(25.73,14.60) scale(0.930,1.000)" font-size="22.0" class="s" stroke="#000" stroke-width="0.30" stroke-linejoin="round">a</text><text transform="translate(37.48,0.00) scale(0.930,1.000)" font-size="35.0" class="s" stroke="#000" stroke-width="0.40" stroke-linejoin="round">(</text><text transform="translate(49.05,0.00)" font-size="35.0" class="s" stroke="#000" stroke-width="0.20" stroke-linejoin="round">|</text><text transform="translate(58.36,0.00)" font-size="34.7" class="s" stroke="#000" stroke-width="0.30" stroke-linejoin="round">p</text><text transform="translate(78.05,0.00)" font-size="35.0" class="s" stroke="#000" stroke-width="0.20" stroke-linejoin="round">|</text><text transform="translate(86.98,0.50) scale(1.080,1.000)" font-size="32.4" class="s r" stroke="#000" stroke-width="0.50" stroke-linejoin="round">λ</text><text transform="translate(103.50,0.40)" font-size="35.0" class="s">/</text><text transform="translate(113.16,0.30) scale(1.080,1.000)" font-size="37.0" class="s r" font-style="italic" stroke="#000" stroke-width="0.70" stroke-linejoin="round">ħ</text><text transform="translate(132.83,-1.90) scale(0.950,1.000)" font-size="31.0" class="s" stroke="#000" stroke-width="0.40" stroke-linejoin="round">)</text></g>
</svg>
</body></html>
